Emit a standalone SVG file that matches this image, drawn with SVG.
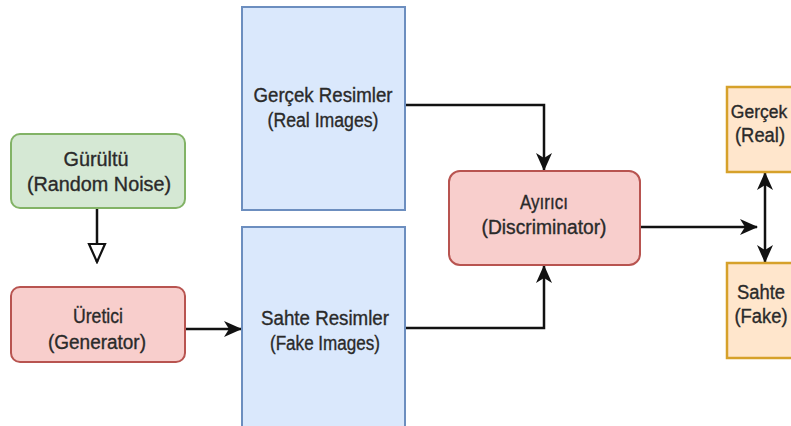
<svg xmlns="http://www.w3.org/2000/svg" width="791" height="426" viewBox="0 0 791 426">
  <style>
    .lbl { font-family: "Liberation Sans", Arial, sans-serif; font-size: 20px; fill: #2a2a2a; stroke: #2a2a2a; stroke-width: 0.35; text-anchor: middle; }
    .green { fill: #d5e8d4; stroke: #82b366; stroke-width: 2; }
    .red { fill: #f8cecc; stroke: #b85450; stroke-width: 2; }
    .blue { fill: #dae8fc; stroke: #6c8ebf; stroke-width: 2; }
    .orange { fill: #ffe6cc; stroke: #d6a12a; stroke-width: 2.5; }
    .edge { fill: none; stroke: #111; stroke-width: 2.5; }
  </style>
  <defs>
    <marker id="arrow" viewBox="0 0 18 16" markerWidth="18" markerHeight="16" refX="17" refY="8" orient="auto" markerUnits="userSpaceOnUse">
      <path d="M0,0 L18,8 L0,16 L5,8 Z" fill="#111"/>
    </marker>
    <marker id="arrowStart" viewBox="0 0 18 16" markerWidth="18" markerHeight="16" refX="17" refY="8" orient="auto-start-reverse" markerUnits="userSpaceOnUse">
      <path d="M0,0 L18,8 L0,16 L5,8 Z" fill="#111"/>
    </marker>
    <marker id="openTri" viewBox="0 0 22 20" markerWidth="22" markerHeight="20" refX="20" refY="10" orient="auto" markerUnits="userSpaceOnUse">
      <path d="M2,2 L20,10 L2,18 Z" fill="#fff" stroke="#111" stroke-width="2.2" stroke-linejoin="miter"/>
    </marker>
  </defs>

  <rect width="791" height="426" fill="#ffffff"/>

  <!-- connectors -->
  <g id="connectors">
    <line class="edge" x1="97" y1="208" x2="97" y2="262" marker-end="url(#openTri)"/>
    <line class="edge" x1="185" y1="329" x2="241" y2="329" marker-end="url(#arrow)"/>
    <polyline class="edge" points="405,105 544,105 544,170" marker-end="url(#arrow)"/>
    <polyline class="edge" points="405,328 544,328 544,266" marker-end="url(#arrow)"/>
    <line class="edge" x1="640" y1="227" x2="757" y2="227" marker-end="url(#arrow)"/>
    <line class="edge" x1="765" y1="173" x2="765" y2="262" marker-start="url(#arrowStart)" marker-end="url(#arrow)"/>
  </g>

  <!-- nodes -->
  <g id="noise">
    <rect class="green" x="11" y="134" width="174" height="74" rx="9"/>
    <text class="lbl" x="96" y="166" textLength="65" lengthAdjust="spacingAndGlyphs">Gürültü</text>
    <text class="lbl" x="99" y="191" textLength="144" lengthAdjust="spacingAndGlyphs">(Random Noise)</text>
  </g>

  <g id="generator">
    <rect class="red" x="11" y="287" width="174" height="75" rx="9"/>
    <text class="lbl" x="98" y="323" textLength="50" lengthAdjust="spacingAndGlyphs">Üretici</text>
    <text class="lbl" x="97" y="349" textLength="98" lengthAdjust="spacingAndGlyphs">(Generator)</text>
  </g>

  <g id="real-images">
    <rect class="blue" x="242" y="7" width="163" height="203"/>
    <text class="lbl" x="323" y="102" textLength="139" lengthAdjust="spacingAndGlyphs">Gerçek Resimler</text>
    <text class="lbl" x="323" y="127" textLength="111" lengthAdjust="spacingAndGlyphs">(Real Images)</text>
  </g>

  <g id="fake-images">
    <rect class="blue" x="242" y="227" width="163" height="210"/>
    <text class="lbl" x="325" y="325" textLength="128" lengthAdjust="spacingAndGlyphs">Sahte Resimler</text>
    <text class="lbl" x="325" y="350" textLength="110" lengthAdjust="spacingAndGlyphs">(Fake Images)</text>
  </g>

  <g id="discriminator">
    <rect class="red" x="449" y="171" width="191" height="94" rx="11"/>
    <text class="lbl" x="544" y="209" textLength="48" lengthAdjust="spacingAndGlyphs">Ayırıcı</text>
    <text class="lbl" x="544" y="234" textLength="125" lengthAdjust="spacingAndGlyphs">(Discriminator)</text>
  </g>

  <g id="real">
    <rect class="orange" x="727" y="87" width="72" height="85"/>
    <text class="lbl" x="759" y="118" style="font-size:17.5px">Gerçek</text>
    <text class="lbl" x="760" y="142" textLength="50" lengthAdjust="spacingAndGlyphs">(Real)</text>
  </g>

  <g id="fake">
    <rect class="orange" x="727" y="263" width="72" height="95"/>
    <text class="lbl" x="761" y="299" textLength="48" lengthAdjust="spacingAndGlyphs">Sahte</text>
    <text class="lbl" x="761" y="323" textLength="53" lengthAdjust="spacingAndGlyphs">(Fake)</text>
  </g>
</svg>
